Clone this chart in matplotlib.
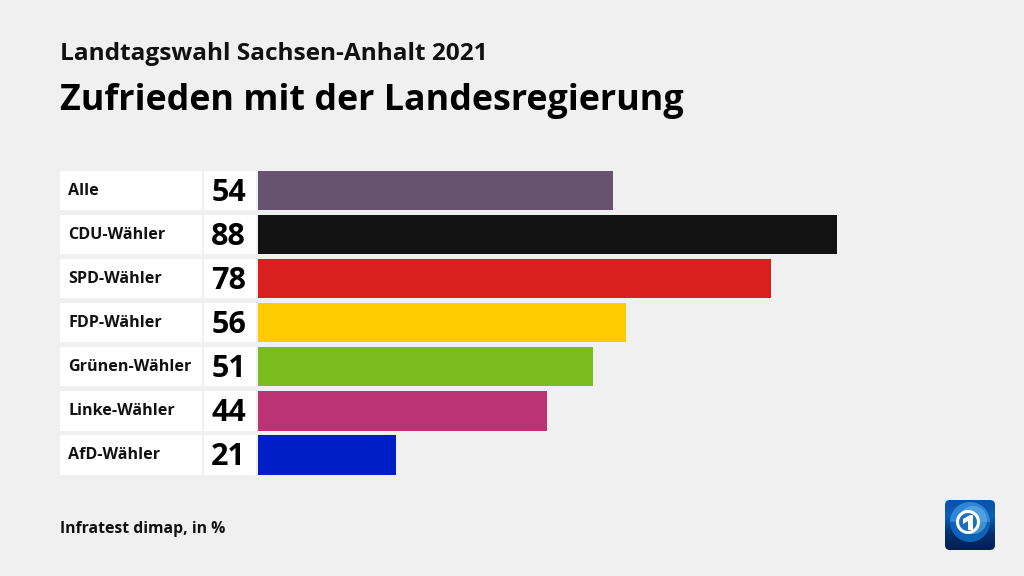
import numpy as np
import matplotlib
matplotlib.use('Agg')
import matplotlib.pyplot as plt
from matplotlib.colors import LinearSegmentedColormap
from matplotlib.patches import Rectangle, FancyBboxPatch, Circle, Polygon, Wedge

groups = ['Alle', 'CDU-Wähler', 'SPD-Wähler', 'FDP-Wähler', 'Grünen-Wähler', 'Linke-Wähler', 'AfD-Wähler']
values = [54, 88, 78, 56, 51, 44, 21]
colors = ['#67536f', '#121212', '#da1f1f', '#ffcc00', '#7abd1c', '#bd3274', '#001ec8']

title_top = 'Landtagswahl Sachsen-Anhalt 2021'
title_main = 'Zufrieden mit der Landesregierung'
source = 'Infratest dimap, in %'

plt.rcParams['font.family'] = ['Open Sans', 'DejaVu Sans']
W, H = 1024, 576
fig = plt.figure(figsize=(W / 100, H / 100), dpi=100, facecolor='#f0f0f0')

# full figure overlay in pixel units, for the cells and the logo
bg = fig.add_axes([0, 0, 1, 1])
bg.axis('off')

# bars: 6.585 px per percent, rows 44.1 px apart
row_h = 44.1
bar_h = 39.4
top = 170.6
left = 257.6
span = 6 * row_h + bar_h
ax = fig.add_axes([left / W, 1 - (top + span) / H, 658.5 / W, span / H])
ax.patch.set_alpha(0)
y = np.arange(len(groups))
ax.barh(y, values, height=bar_h / row_h, color=colors)
ax.set_xlim(0, 100)
ax.set_ylim(len(groups) - 1 + bar_h / row_h / 2, -bar_h / row_h / 2)
ax.axis('off')

for i, (g, v) in enumerate(zip(groups, values)):
    yy = top + i * row_h
    bg.add_patch(Rectangle((60, yy), 141.5, bar_h, fc='white', ec='none'))
    bg.add_patch(Rectangle((204, yy), 52, bar_h, fc='white', ec='none'))
    bg.text(68, yy + 20, g, fontsize=11.6, fontweight='bold', va='center', ha='left', color='#111111')
    bg.text(246, yy + 22, str(v), fontsize=22, fontweight='bold', va='center', ha='right', color='#000000')

bg.text(60, 54, title_top, fontsize=17.6, fontweight='bold', va='center', ha='left', color='#111111')
bg.text(60, 101, title_main, fontsize=25.8, fontweight='bold', va='center', ha='left', color='#000000')
bg.text(60, 529, source, fontsize=11.3, fontweight='bold', va='center', ha='left', color='#111111')

# tagesschau style logo
grad = np.linspace(0, 1, 64).reshape(-1, 1)
cmap = LinearSegmentedColormap.from_list('logo', ['#0a52a8', '#0a5fb8', '#06306e', '#041f50'])
im = bg.imshow(grad, extent=(945, 995, 550, 500), cmap=cmap, aspect='auto', zorder=2)
clip = FancyBboxPatch((945, 500), 50, 50, boxstyle='round,pad=0,rounding_size=5', fc='none', ec='none')
bg.add_patch(clip)
im.set_clip_path(clip)
bg.set_xlim(0, W)
bg.set_ylim(H, 0)
bg.add_patch(Circle((970, 522), 20, fc='#0d63b8', ec='none', zorder=3))
bg.add_patch(Wedge((970, 522), 20, 180, 360, fc='#2f86d6', ec='none', zorder=3))
bg.add_patch(Circle((973, 520), 14, fc='#6fb4e6', ec='none', alpha=0.55, zorder=3))
bg.add_patch(Circle((968, 522), 10.5, fc='#1c6fc0', ec='white', lw=2.2, zorder=4))
bg.add_patch(Polygon([[963, 519], [970, 515], [973, 515], [973, 530], [968, 530], [968, 521], [963, 524]], fc='white', ec='none', zorder=5))

fig.savefig('out.png', dpi=100, facecolor=fig.get_facecolor())
